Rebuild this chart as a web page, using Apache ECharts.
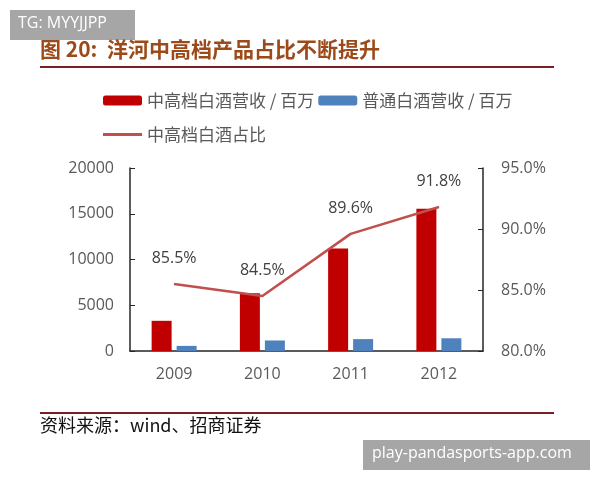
<!DOCTYPE html>
<html><head><meta charset="utf-8">
<script src="https://cdn.jsdelivr.net/npm/echarts@6/dist/echarts.min.js"></script>
<style>html,body{margin:0;padding:0;background:#fff}#c{width:600px;height:480px}</style>
</head><body><div id="c"></div>
<script>
const categories = ['2009', '2010', '2011', '2012'];
const highEndRevenue = [3300, 6300, 11200, 15550];
const regularRevenue = [560, 1150, 1300, 1390];
const highEndShare = [85.5, 84.5, 89.6, 91.8];
const leftTicks = [0, 5000, 10000, 15000, 20000];
const rightTicks = [80, 85, 90, 95];

const FONT = '"Noto Sans CJK SC", "Noto Sans", sans-serif';
const NUMFONT = '"Open Sans", "Noto Sans", sans-serif';
const chart = echarts.init(document.getElementById('c'), null, {renderer: 'canvas'});
chart.setOption({
  animation: false,
  backgroundColor: '#ffffff',
  textStyle: {fontFamily: FONT},
  grid: {left: 130, right: 117, top: 168, bottom: 129},
  legend: [
    {
      left: 98, top: 87, itemWidth: 39, itemHeight: 10, itemGap: 4,
      textStyle: {fontSize: 17, color: '#595959', fontFamily: FONT},
      data: ['中高档白酒营收 / 百万', '普通白酒营收 / 百万']
    },
    {
      left: 98, top: 121, itemWidth: 39, itemHeight: 10,
      textStyle: {fontSize: 17, color: '#595959', fontFamily: FONT},
      data: [{name: '中高档白酒占比', icon: 'path://M0,0 L40,0 L40,3 L0,3 Z'}]
    }
  ],
  xAxis: {
    type: 'category', data: categories,
    axisLine: {lineStyle: {color: '#262626', width: 1.5}},
    axisTick: {inside: true, length: 5, alignWithLabel: false, lineStyle: {color: '#262626'}},
    axisLabel: {fontSize: 16, color: '#595959', margin: 15, fontFamily: NUMFONT}
  },
  yAxis: [
    {
      type: 'value', min: leftTicks[0], max: leftTicks[leftTicks.length - 1], interval: 5000,
      splitLine: {show: false},
      axisLine: {show: true, lineStyle: {color: '#262626', width: 1.5}},
      axisTick: {show: true, inside: true, length: 5, lineStyle: {color: '#262626'}},
      axisLabel: {fontSize: 16, color: '#595959', margin: 16, fontFamily: NUMFONT,
        formatter: v => String(v)}
    },
    {
      type: 'value', min: rightTicks[0], max: rightTicks[rightTicks.length - 1], interval: 5,
      splitLine: {show: false},
      axisLine: {show: true, lineStyle: {color: '#262626', width: 1.5}},
      axisTick: {show: true, inside: true, length: 5, lineStyle: {color: '#262626'}},
      axisLabel: {fontSize: 16, color: '#595959', margin: 18, fontFamily: NUMFONT,
        formatter: v => v.toFixed(1) + '%'}
    }
  ],
  series: [
    {
      name: '中高档白酒营收 / 百万', type: 'bar', data: highEndRevenue,
      barWidth: 20, barGap: '25%', itemStyle: {color: '#C00000'}
    },
    {
      name: '普通白酒营收 / 百万', type: 'bar', data: regularRevenue,
      barWidth: 20, barGap: '25%', itemStyle: {color: '#4F81BD'}
    },
    {
      name: '中高档白酒占比', type: 'line', yAxisIndex: 1, data: highEndShare, z: 5,
      symbol: 'circle', symbolSize: 1, showSymbol: true,
      lineStyle: {color: '#C0504D', width: 2.5},
      itemStyle: {color: '#C0504D'},
      label: {show: true, position: 'top', distance: 17, fontSize: 16, color: '#404040',
        fontFamily: NUMFONT, formatter: p => p.value.toFixed(1) + '%'}
    }
  ],
  graphic: [
    {type: 'rect', left: 10, top: 10, shape: {width: 125, height: 30}, style: {fill: '#a6a6a6'}},
    {type: 'text', left: 18, top: 15, style: {text: 'TG: MYYJJPP', fill: '#ffffff', font: '16px ' + NUMFONT}},
    {type: 'text', left: 40, top: 39, style: {text: '图 20:  洋河中高档产品占比不断提升', fill: '#9C4A1A', font: 'bold 21px ' + FONT}},
    {type: 'rect', left: 40, top: 66, shape: {width: 514, height: 2}, style: {fill: '#7B1F1F'}},
    {type: 'rect', left: 40, top: 412, shape: {width: 514, height: 2}, style: {fill: '#7B1F1F'}},
    {type: 'text', left: 40, top: 416, style: {text: '资料来源：wind、招商证券', fill: '#111111', font: '18px ' + FONT}},
    {type: 'rect', left: 363, top: 440, shape: {width: 227, height: 30}, style: {fill: '#a6a6a6'}},
    {type: 'text', left: 372, top: 445, style: {text: 'play-pandasports-app.com', fill: '#ffffff', font: '16px ' + NUMFONT}}
  ]
});
</script></body></html>
